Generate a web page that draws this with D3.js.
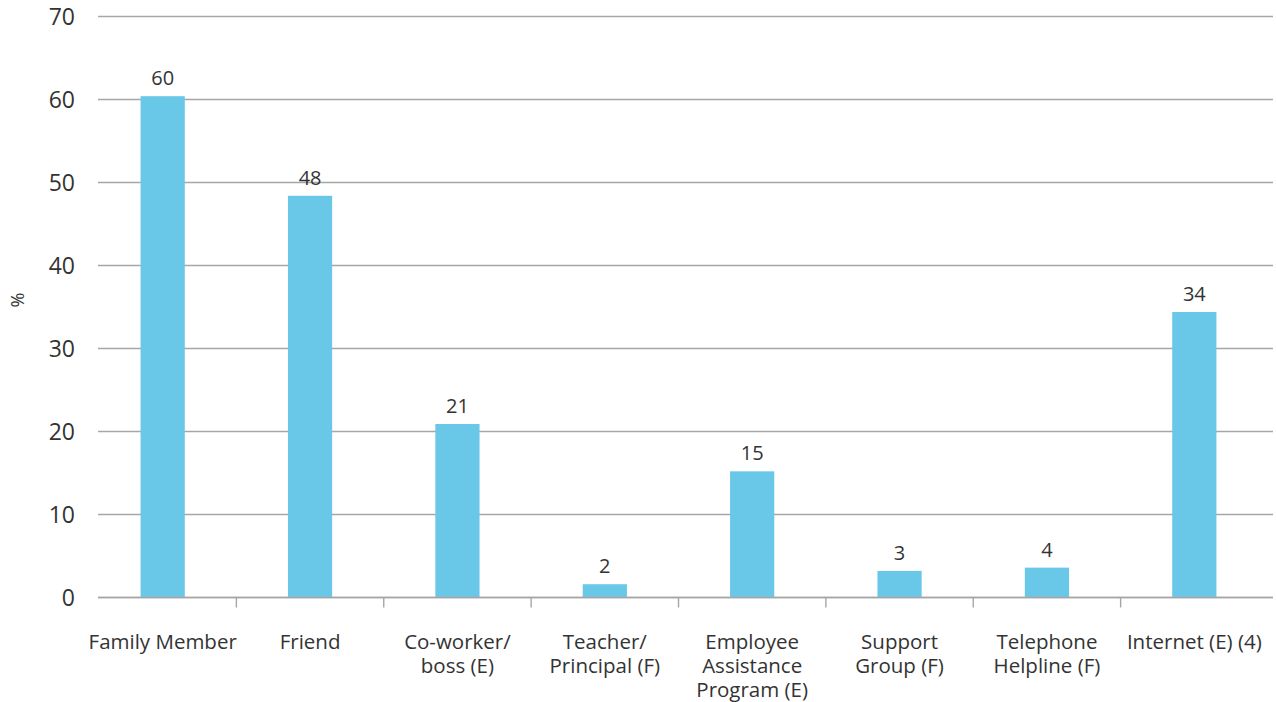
<!DOCTYPE html>
<html>
<head>
<meta charset="utf-8">
<script src="https://cdn.jsdelivr.net/npm/d3@7"></script>
<style>
  html, body { margin: 0; padding: 0; background: #fff; }
  svg { display: block; font-family: "Open Sans", "Noto Sans", sans-serif; }
</style>
</head>
<body>
<svg id="chart" width="1276" height="702"></svg>
<script>
const categories = [
  "Family Member",
  "Friend",
  "Co-worker/\nboss (E)",
  "Teacher/\nPrincipal (F)",
  "Employee\nAssistance\nProgram (E)",
  "Support\nGroup (F)",
  "Telephone\nHelpline (F)",
  "Internet (E) (4)"
];
const values = [60.4, 48.4, 20.9, 1.6, 15.2, 3.2, 3.6, 34.4];
const valueLabels = ["60", "48", "21", "2", "15", "3", "4", "34"];
const yTicks = [0, 10, 20, 30, 40, 50, 60, 70];

const svg = d3.select("#chart");
const gridLeft = 98, gridRight = 1273;
const y = d3.scaleLinear().domain([0, 70]).range([597.5, 16.5]);
const x = d3.scaleBand().domain(categories).range([89, 1268]).padding(0);
const barW = x.bandwidth() * 0.3;
const textColor = "#333333";
const gridColor = "#a6a6a6";

// gridlines
svg.append("g").selectAll("line").data(yTicks).join("line")
  .attr("x1", gridLeft).attr("x2", gridRight)
  .attr("y1", d => y(d)).attr("y2", d => y(d))
  .attr("stroke", gridColor).attr("stroke-width", 1.4);

// y tick labels
svg.append("g").selectAll("text").data(yTicks).join("text")
  .attr("x", 75).attr("y", d => y(d))
  .attr("dy", "0.35em")
  .attr("text-anchor", "end")
  .attr("font-size", 23)
  .attr("fill", textColor)
  .text(d => d);

// y title
svg.append("text")
  .attr("transform", "translate(24,300) rotate(-90)")
  .attr("text-anchor", "middle")
  .attr("font-size", 18)
  .attr("fill", textColor)
  .text("%");

// bars
const data = categories.map((c, i) => ({ c, v: values[i], l: valueLabels[i] }));
svg.append("g").selectAll("rect").data(data).join("rect")
  .attr("x", d => x(d.c) + (x.bandwidth() - barW) / 2)
  .attr("width", barW)
  .attr("y", d => y(d.v))
  .attr("height", d => y(0) - y(d.v))
  .attr("fill", "#69C7E7");

// redraw zero line over bars
svg.append("line")
  .attr("x1", gridLeft).attr("x2", gridRight)
  .attr("y1", y(0)).attr("y2", y(0))
  .attr("stroke", gridColor).attr("stroke-width", 1.4);

// category boundary ticks
const bounds = categories.slice(1).map(c => x(c));
svg.append("g").selectAll("line").data(bounds).join("line")
  .attr("x1", d => d).attr("x2", d => d)
  .attr("y1", y(0)).attr("y2", y(0) + 10)
  .attr("stroke", gridColor).attr("stroke-width", 1.4);

// value labels
svg.append("g").selectAll("text").data(data).join("text")
  .attr("x", d => x(d.c) + x.bandwidth() / 2)
  .attr("y", d => y(d.v) - 11)
  .attr("text-anchor", "middle")
  .attr("font-size", 20)
  .attr("fill", textColor)
  .text(d => d.l);

// category labels (one text element per line)
const lines = [];
categories.forEach(c => {
  c.split("\n").forEach((t, i) => lines.push({ c, t, i }));
});
svg.append("g").selectAll("text").data(lines).join("text")
  .attr("x", d => x(d.c) + x.bandwidth() / 2)
  .attr("y", d => 649 + d.i * 24)
  .attr("text-anchor", "middle")
  .attr("font-size", 20.5)
  .attr("fill", textColor)
  .text(d => d.t);
</script>
</body>
</html>
